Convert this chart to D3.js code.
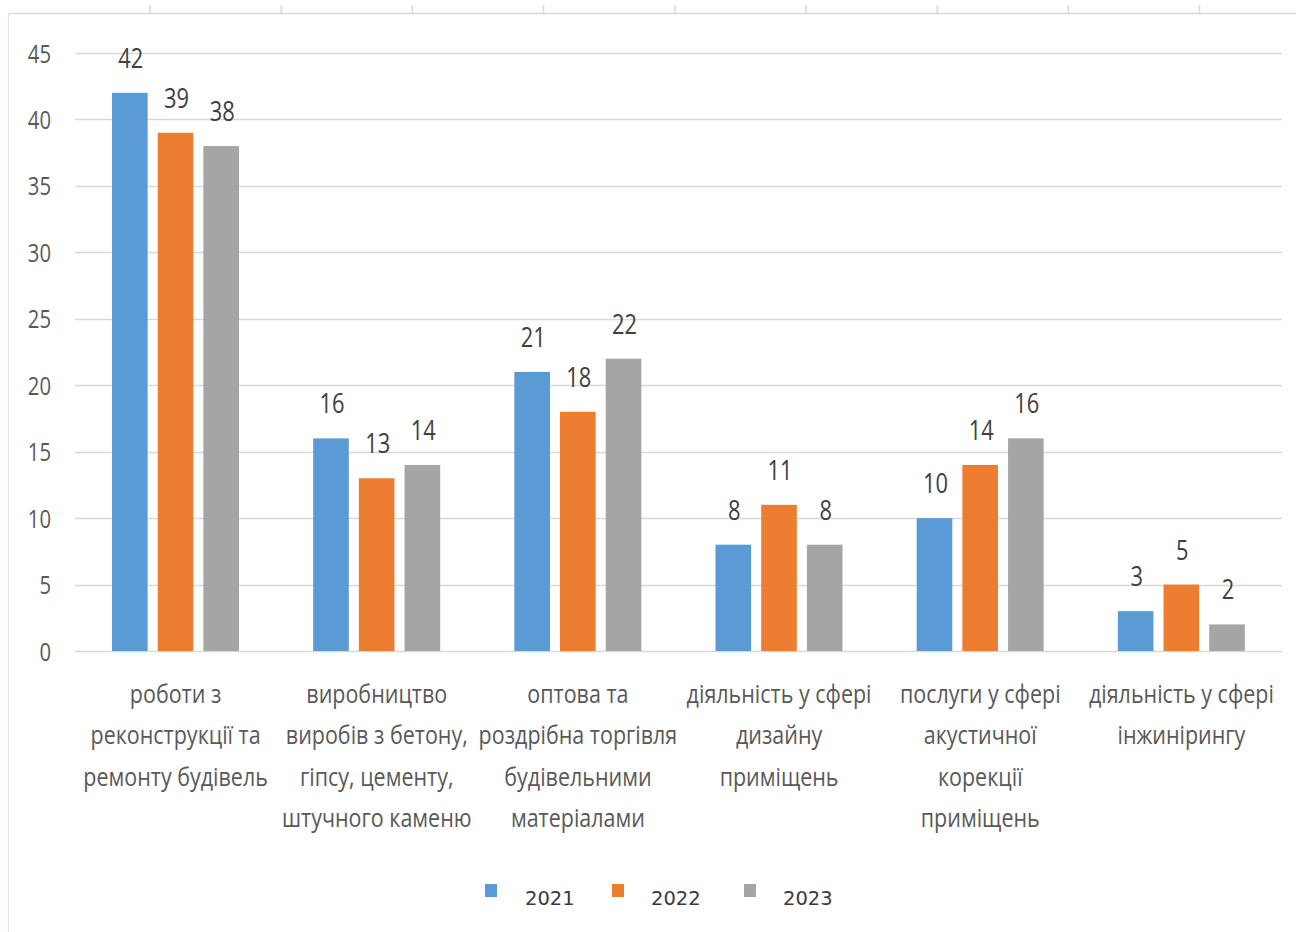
<!DOCTYPE html>
<html>
<head>
<meta charset="utf-8">
<script src="https://cdn.jsdelivr.net/npm/d3@7"></script>
<style>
  html, body { margin: 0; padding: 0; background: #fff; }
  svg { display: block; }
  text { font-family: "Open Sans", Lato, sans-serif; }
</style>
</head>
<body>
<svg id="chart" width="1298" height="932"></svg>
<script>
// Activity areas (multi-line category labels)
const categories = [
  ["роботи з", "реконструкції та", "ремонту будівель"],
  ["виробництво", "виробів з бетону,", "гіпсу, цементу,", "штучного каменю"],
  ["оптова та", "роздрібна торгівля", "будівельними", "матеріалами"],
  ["діяльність у сфері", "дизайну", "приміщень"],
  ["послуги у сфері", "акустичної", "корекції", "приміщень"],
  ["діяльність у сфері", "інжинірингу"]
];
const years = ["2021", "2022", "2023"];
const values2021 = [42, 16, 21, 8, 10, 3];
const values2022 = [39, 13, 18, 11, 14, 5];
const values2023 = [38, 14, 22, 8, 16, 2];
const yTicks = [0, 5, 10, 15, 20, 25, 30, 35, 40, 45];
const colors = ["#5B9BD5", "#ED7D31", "#A5A5A5"];

const series = [values2021, values2022, values2023];
const svg = d3.select("#chart");

// Condensed text: draw at (x, y) and squeeze horizontally
function condText(parent, x, y, sx) {
  return parent.append("text")
    .attr("transform", `translate(${x},${y}) scale(${sx},1)`);
}

// Outer frame: top rule with small tick marks and a left edge
const frame = svg.append("g");
frame.append("line").attr("x1", 8).attr("x2", 1296).attr("y1", 13.5).attr("y2", 13.5)
  .attr("stroke", "#d9d9d9").attr("stroke-width", 1.5);
frame.append("line").attr("x1", 8.5).attr("x2", 8.5).attr("y1", 13).attr("y2", 932)
  .attr("stroke", "#e3e3e3").attr("stroke-width", 1.2);
const frameTicks = d3.range(9).map(i => 150 + i * 131.2);
frame.selectAll("line.ft").data(frameTicks).join("line").attr("class", "ft")
  .attr("x1", d => d).attr("x2", d => d).attr("y1", 5).attr("y2", 13)
  .attr("stroke", "#d9d9d9").attr("stroke-width", 1.5);

const plotLeft = 75, plotRight = 1282, plotTop = 53, plotBottom = 651;

const x0 = d3.scaleBand().domain(d3.range(categories.length)).range([plotLeft, plotRight]);
const x1 = d3.scaleBand().domain(d3.range(years.length)).range([37, 164]).paddingInner(0.22);
const y = d3.scaleLinear().domain([0, 45]).range([plotBottom, plotTop]);

// Horizontal gridlines
svg.append("g").selectAll("line").data(yTicks).join("line")
  .attr("x1", plotLeft).attr("x2", plotRight)
  .attr("y1", d => Math.round(y(d)) + 0.5).attr("y2", d => Math.round(y(d)) + 0.5)
  .attr("stroke", "#d9d9d9").attr("stroke-width", 1.3);

// Y axis labels (positions from the axis generator, text condensed)
const yAxis = d3.axisLeft(y).tickValues(yTicks).tickSize(0).tickPadding(0);
const ya = svg.append("g").attr("transform", `translate(51,0)`).call(yAxis);
ya.select(".domain").remove();
ya.selectAll(".tick text").remove();
ya.selectAll(".tick").each(function(d) {
  condText(d3.select(this), 0, 9, 0.78)
    .attr("text-anchor", "end").attr("font-size", 26).attr("fill", "#595959")
    .text(d);
});

// Bars and value labels
const groups = svg.append("g").selectAll("g").data(categories).join("g")
  .attr("transform", (d, i) => `translate(${x0(i)},0)`);

groups.each(function(_, ci) {
  const g = d3.select(this);
  series.forEach((s, si) => {
    g.append("rect")
      .attr("x", x1(si)).attr("width", x1.bandwidth())
      .attr("y", y(s[ci])).attr("height", y(0) - y(s[ci]))
      .attr("fill", colors[si]);
    condText(g, x1(si) + x1.bandwidth() / 2 + 1, y(s[ci]) - 25, 0.78)
      .attr("text-anchor", "middle").attr("font-size", 28).attr("fill", "#404040")
      .text(s[ci]);
  });
  // Category label lines
  const t = condText(g, x0.bandwidth() / 2, 0, 0.86)
    .attr("text-anchor", "middle").attr("font-size", 25).attr("fill", "#595959");
  categories[ci].forEach((ln, li) => {
    t.append("tspan").attr("x", 0).attr("y", 703 + li * 41.3).text(ln);
  });
});

// Legend
const legendX = [485, 612, 744];
const lg = svg.append("g").selectAll("g").data(years).join("g")
  .attr("transform", (d, i) => `translate(${legendX[i]},884)`);
lg.append("rect").attr("width", 12).attr("height", 13).attr("fill", (d, i) => colors[i]);
lg.append("text").attr("x", (d, i) => [40, 39, 39][i]).attr("y", 21)
  .style("font-family", "'DejaVu Sans', sans-serif").attr("font-size", 19.5).attr("fill", "#3a3a3a")
  .text(d => d);
</script>
</body>
</html>
